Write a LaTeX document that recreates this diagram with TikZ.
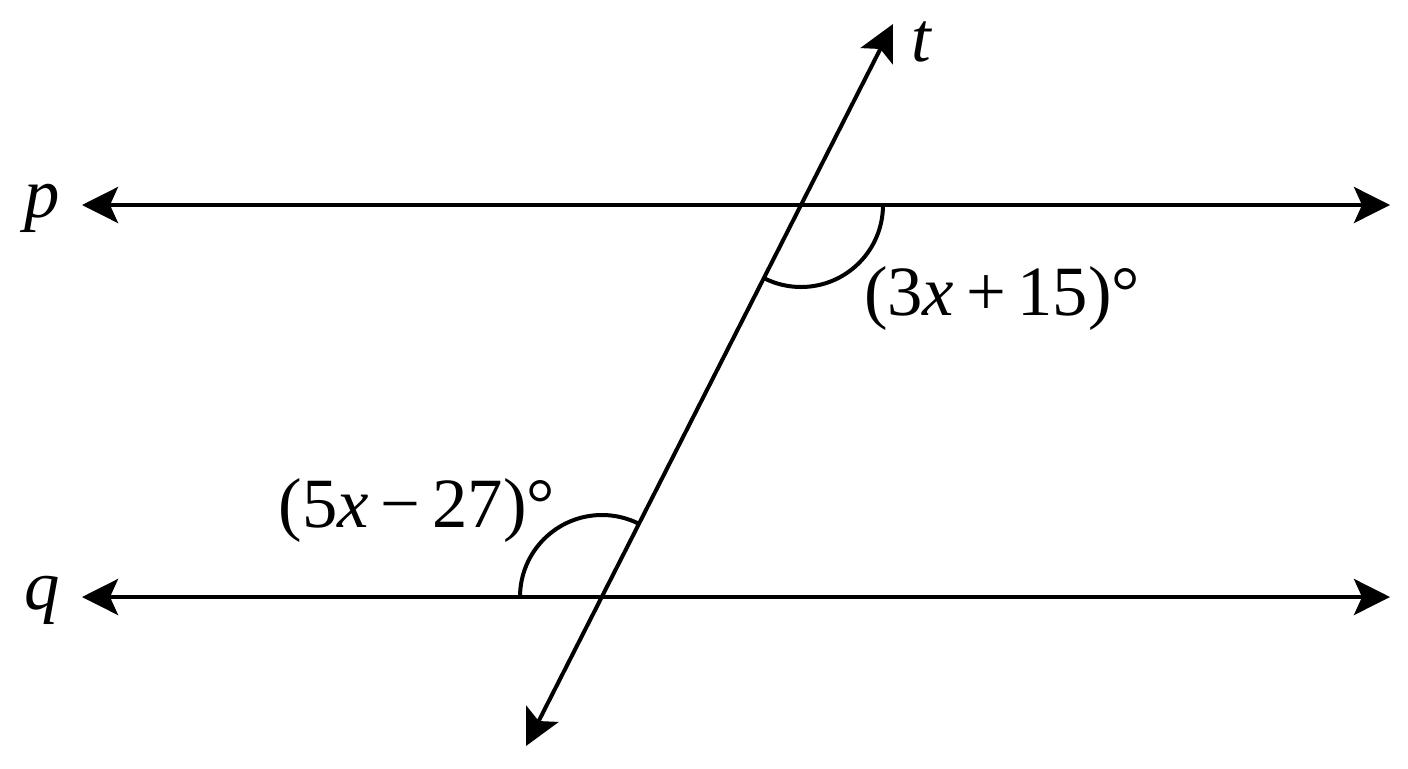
\documentclass[tikz,border=0pt]{standalone}
\usepackage{fontspec}
\setmainfont{Liberation Serif}
\usetikzlibrary{arrows.meta}

\tikzset{every picture/.style={line width=3pt}}
\tikzset{
  dline/.style={{Stealth[length=27pt,width=27pt,inset=6pt]}-{Stealth[length=27pt,width=27pt,inset=6pt]}},
  lbl/.style={font=\fontsize{53}{60}\selectfont, inner sep=0pt},
}

\begin{document}
\begin{tikzpicture}[x=0.75pt,y=0.75pt,yscale=-1,xscale=1]
	\useasboundingbox (0,0) rectangle (1408,768);
	%Coordinates
	\coordinate (pL) at (82,205);
	\coordinate (pR) at (1390,205);
	\coordinate (qL) at (82,597);
	\coordinate (qR) at (1390,597);
	\coordinate (tT) at (893,24);
	\coordinate (tB) at (526,746);
	\coordinate (P) at (801,205);
	\coordinate (Q) at (602,597);
	%Straight Lines
	\draw [dline] (pL) -- (pR) ;
	%Straight Lines
	\draw [dline] (qL) -- (qR) ;
	%Straight Lines
	\draw [dline] (tB) -- (tT) ;
	%Shape: Arc
	\draw (P) ++(0:82) arc[start angle=0, end angle=116.9, radius=82] ;
	%Shape: Arc
	\draw (Q) ++(180:82) arc[start angle=180, end angle=296.9, radius=82] ;

	% Text Node
	\node [lbl] (plab) at (42,208) {\textit{p}};
	% Text Node
	\node [lbl] (qlab) at (42,600) {\textit{q}};
	% Text Node
	\node [lbl] (tlab) at (922,42) {\textit{t}};
	% Text Node
	\node [lbl, anchor=west] (anglep) at (862,298) {(3\textit{x}\,+\,15)°};
	% Text Node
	\node [lbl, anchor=east] (angleq) at (557,510) {(5\textit{x}\,−\,27)°};
\end{tikzpicture}
\end{document}
